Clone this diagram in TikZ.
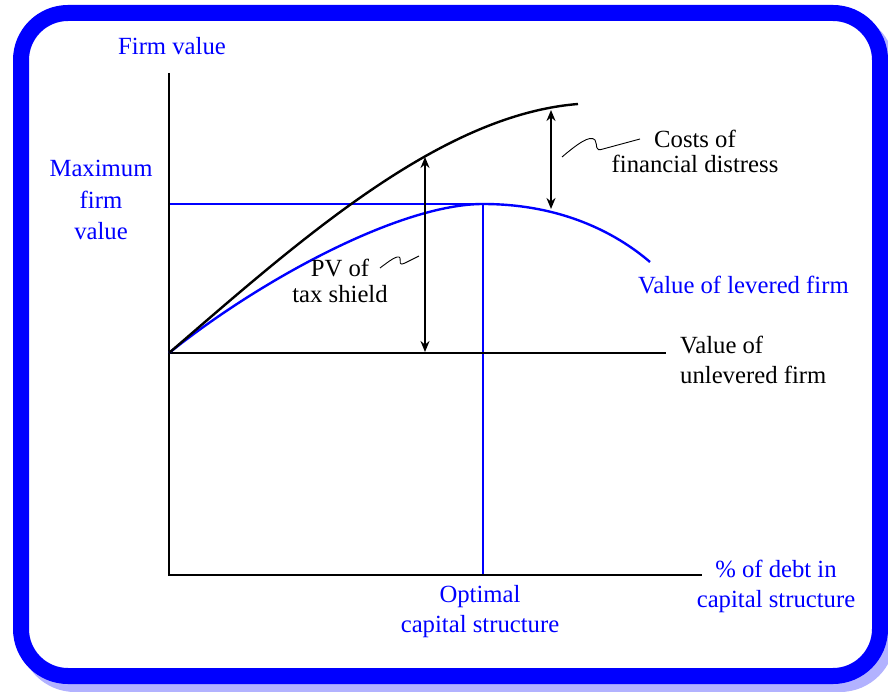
\documentclass[tikz,border=0pt]{standalone}
\usepackage{fontspec}
\setmainfont{Liberation Serif}
\usetikzlibrary{arrows.meta}
\begin{document}
\begin{tikzpicture}[x=1pt,y=-1pt,
  axis/.style={black,line width=2pt},
  bluel/.style={blue,line width=2pt},
  blab/.style={text=blue,font=\fontsize{24.7}{31.5}\selectfont,align=center,inner sep=0pt,anchor=base},
  klab/.style={text=black,font=\fontsize{24.7}{25.5}\selectfont,align=center,inner sep=0pt,anchor=base},
  dbl/.style={line width=1.8pt,{Stealth[length=11pt,width=9pt]}-{Stealth[length=11pt,width=9pt]}},
  squig/.style={line width=0.9pt}]
\useasboundingbox (0,0) rectangle (888,692);
% frame
\draw[blue!30,line width=16pt,rounded corners=47pt] (28,21) rectangle (887,684);
\draw[blue,line width=16pt,rounded corners=47pt,fill=white] (21,13) rectangle (880,676);
% coordinates
\coordinate (O) at (169,353);
\coordinate (Ytop) at (169,73);
\coordinate (Ybot) at (169,575);
\coordinate (Xend) at (702,575);
\coordinate (Uend) at (666,353);
\coordinate (Bend) at (578,104);
\coordinate (Peak) at (483,204);
\coordinate (Lend) at (650,262);
\coordinate (Pleft) at (169,204);
\coordinate (Pbot) at (483,575);
\coordinate (A1t) at (425,157);
\coordinate (A1b) at (425,352);
\coordinate (A2t) at (551,110);
\coordinate (A2b) at (551,209);
% blue guide lines
\draw[bluel] (Pleft) -- (Peak) -- (Pbot);
% axes
\draw[axis] (Ytop) -- (Ybot) -- (Xend);
\draw[axis] (O) -- (Uend);
% curves
\draw[bluel,line width=2.4pt] (O) .. controls (260,280) and (400,204) .. (Peak)
  .. controls (560,204) and (615,232) .. (Lend);
\draw[axis,line width=2.4pt] (O) .. controls (300,240) and (440,115) .. (Bend);
% arrows
\draw[dbl] (A1t) -- (A1b);
\draw[dbl] (A2t) -- (A2b);
% squiggles
\coordinate (S1a) at (562,157);
\coordinate (S1b) at (640,139);
\draw[squig] (S1a) .. controls (575,146) and (590,134) .. (595,140)
  .. controls (598,145) and (594,152) .. (603,149) -- (S1b);
\coordinate (S2a) at (380,268);
\coordinate (S2b) at (419,256);
\draw[squig] (S2a) .. controls (388,262) and (398,254) .. (400,258)
  .. controls (401,262) and (398,266) .. (405,263) -- (S2b);
% labels (base anchor = baseline of the last line)
\node[blab] (fv) at (172,55) {Firm value};
\node[blab] (mfv) at (101,240) {Maximum\\firm\\value};
\node[klab] (cfd) at (695,173) {Costs of\\financial distress};
\node[klab,font=\fontsize{24.7}{26}\selectfont] (pv) at (340,303) {PV of\\tax shield};
\node[blab,anchor=base west] (vlf) at (638,294) {Value of levered firm};
\node[klab,align=left,anchor=base west,font=\fontsize{24.7}{30}\selectfont] (vuf) at (680,383) {Value of\\unlevered firm};
\node[blab,font=\fontsize{24.7}{30}\selectfont] (debt) at (776,607) {\% of debt in\\capital structure};
\node[blab,font=\fontsize{24.7}{30}\selectfont] (opt) at (480,632) {Optimal\\capital structure};
\end{tikzpicture}
\end{document}
